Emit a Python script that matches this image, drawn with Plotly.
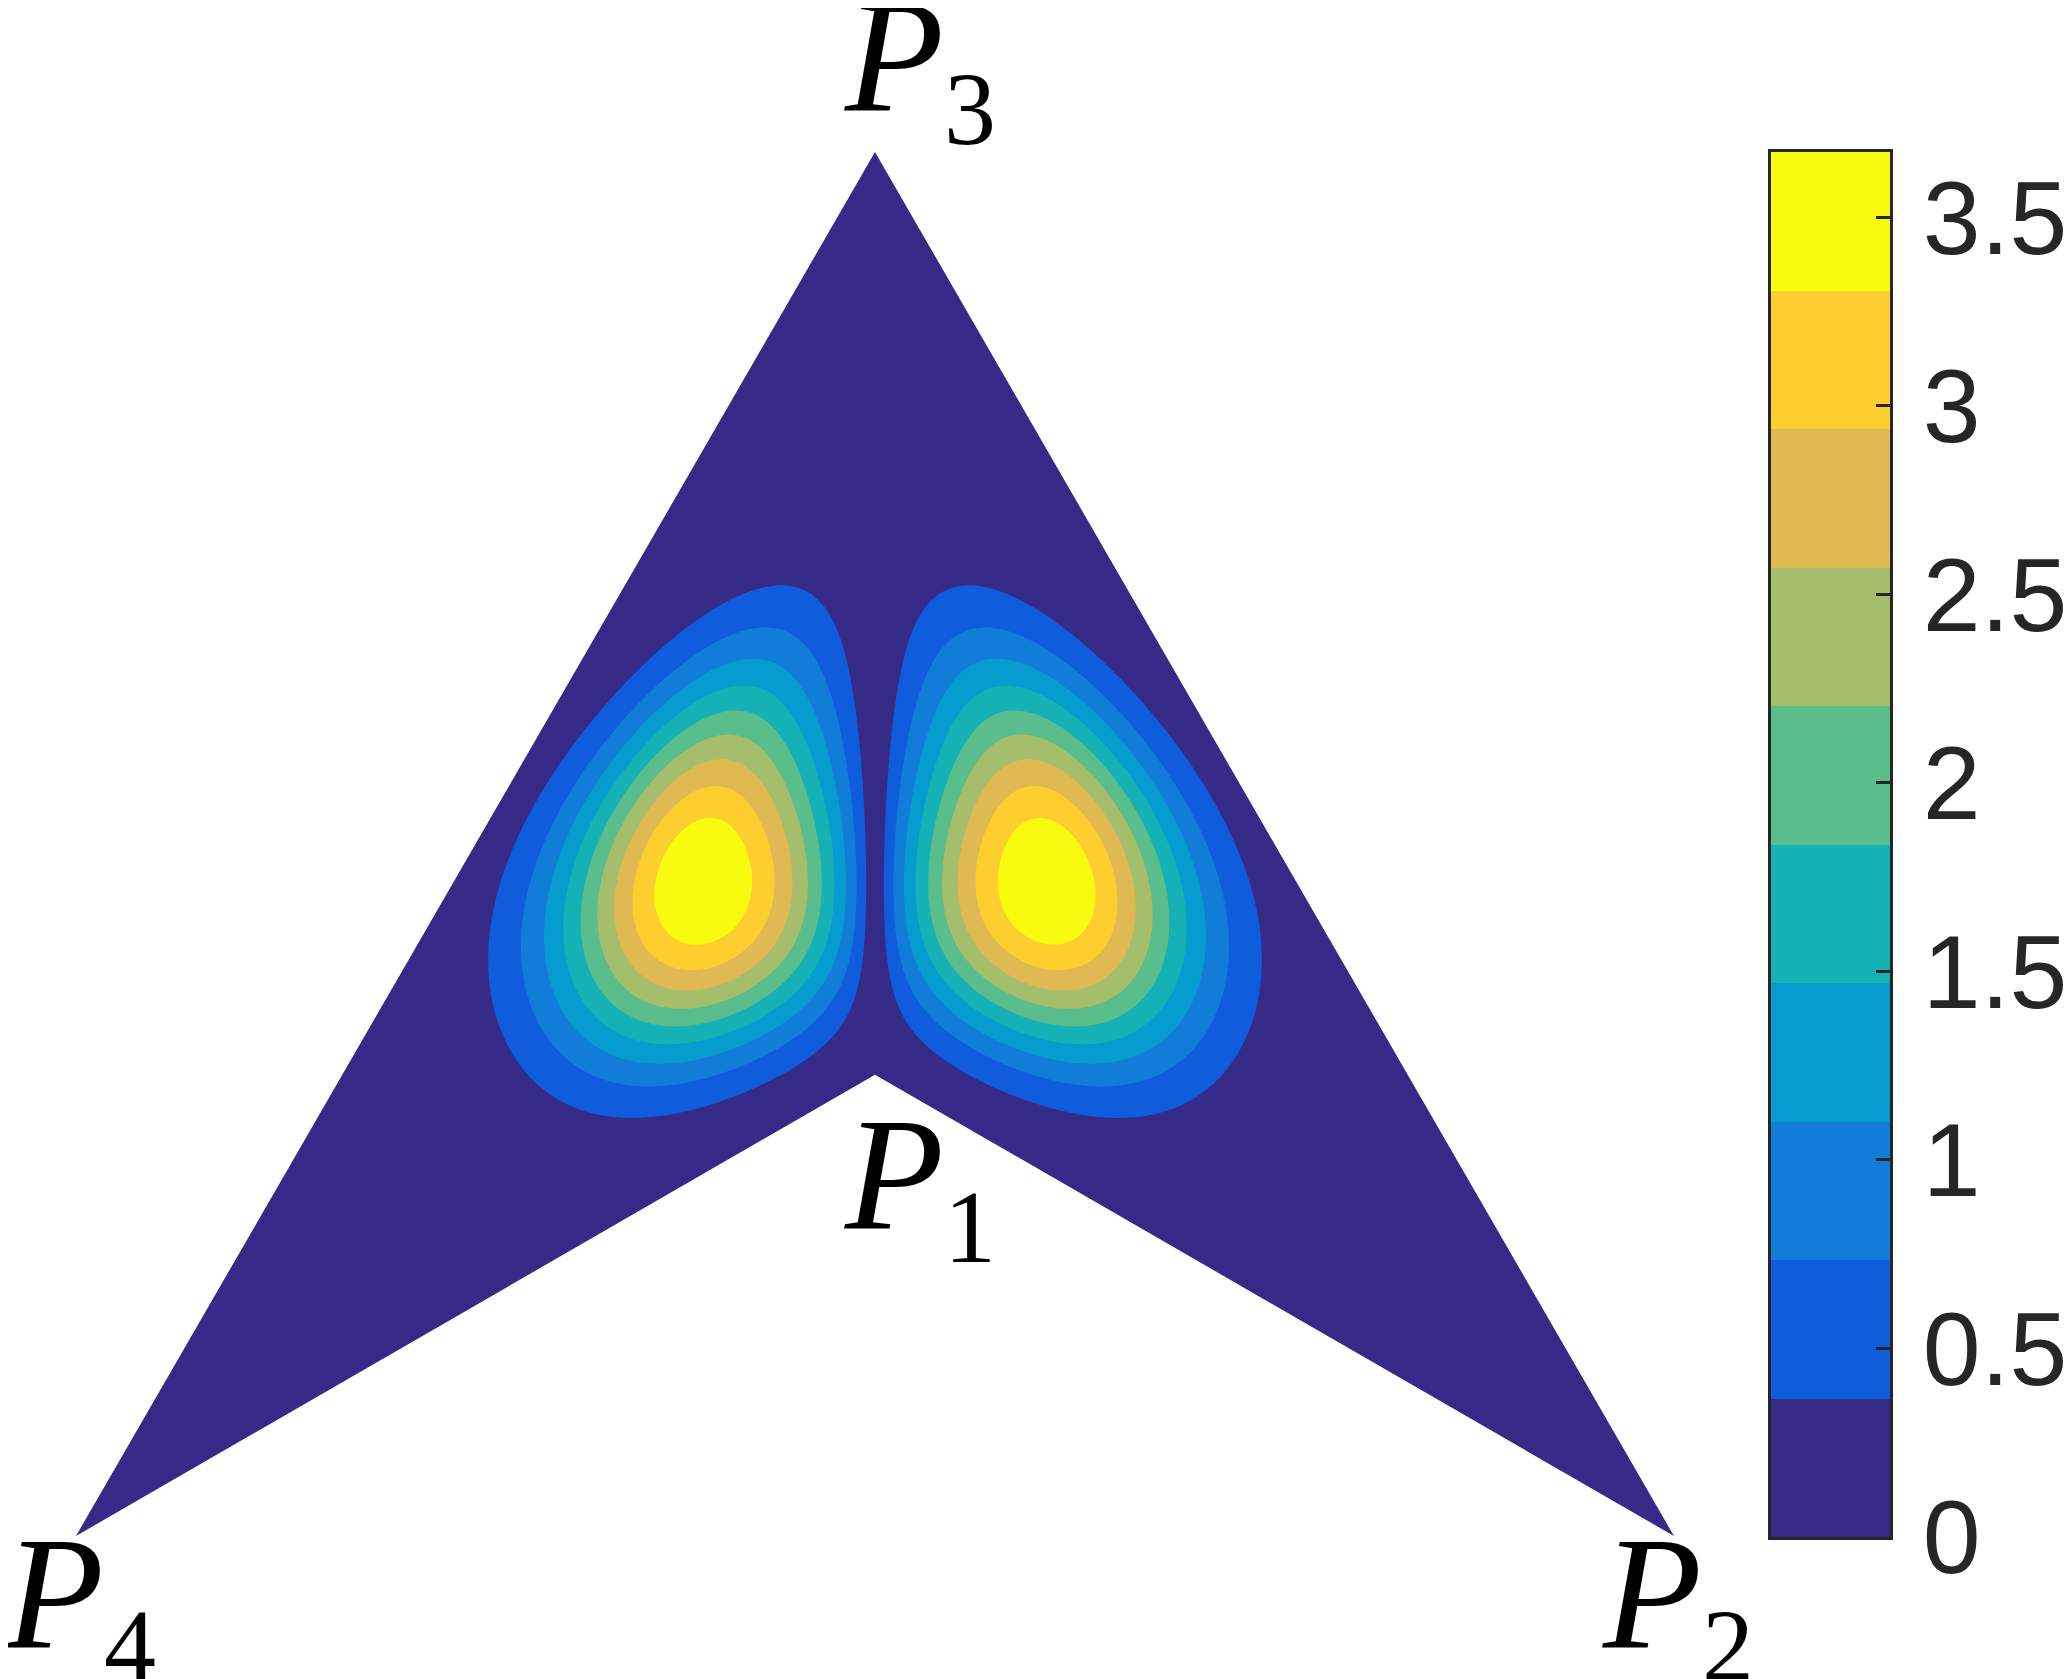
from __future__ import annotations

import numpy as np
import plotly.graph_objects as go

# ---- geometry of the domain (drawing units, P4-P2 is the base) ----
corner_names = ["P1", "P2", "P3", "P4"]
corner_x = [0.0, 1.0, 0.0, -1.0]
corner_y = [0.5774, 0.0, 1.7321, 0.0]

# label box centres (drawing units)
label_x = [0.0563, 1.005, 0.0563, -0.995]
label_y = [0.4406, -0.0839, 1.8398, -0.0839]

# ---- colour scale: 10 filled bands from 0 to z_max ----
z_max = 3.673
n_bands = 10
band_colors = [
    "#352A87", "#0F5CDD", "#127DD8", "#079CCF", "#15B1B4",
    "#59BD8C", "#A5BE6B", "#E1B952", "#FCCE2E", "#F9FB0E",
]
cbar_tickvals = [0, 0.5, 1, 1.5, 2, 2.5, 3, 3.5]
cbar_ticktext = ["0", "0.5", "1", "1.5", "2", "2.5", "3", "3.5"]

# ---- band boundaries read off the right lobe (the left lobe is its mirror) ----
# boundary k separates band k-1 from band k, i.e. it sits at k * z_max / 10
b1_x = [0.0897, 0.1189, 0.169, 0.2107, 0.2603, 0.3104, 0.3692, 0.4105, 0.453,
        0.473, 0.4735, 0.4794, 0.4652, 0.4355, 0.390, 0.3025, 0.2228, 0.1189,
        0.0563, 0.0438, 0.022, 0.0125, 0.0146, 0.025, 0.0476, 0.0647, 0.2015, 0.2015]
b1_y = [1.1818, 1.1881, 1.184, 1.159, 1.1176, 1.0626, 1.0, 0.930, 0.862,
        0.7835, 0.8185, 0.671, 0.6208, 0.5795, 0.542, 0.5207, 0.5373, 0.5795,
        0.6208, 0.6374, 0.677, 0.8185, 0.930, 1.055, 1.1377, 1.163, 1.159, 0.5423]
b2_x = [0.025, 0.440, 0.2015, 0.2015, 0.148, 0.4255]
b2_y = [0.8185, 0.8185, 1.1173, 0.5666, 1.1318, 0.6792]
b3_x = [0.0375, 0.411, 0.2015, 0.2015, 0.1564, 0.411, 0.3651]
b3_y = [0.8185, 0.8185, 1.0818, 0.5929, 1.0901, 0.7043, 0.9712]
b4_x = [0.0522, 0.3858, 0.2015, 0.2015, 0.1606, 0.3859, 0.2357, 0.3442]
b4_y = [0.8185, 0.8185, 1.0484, 0.6179, 1.0567, 0.7209, 0.6124, 0.9546]
b5_x = [0.0667, 0.3608, 0.2015, 0.2015, 0.169, 0.3608, 0.2315, 0.3233, 0.3484]
b5_y = [0.8185, 0.8185, 1.0172, 0.6417, 1.0254, 0.7376, 0.6396, 0.942, 0.6792]
b6_x = [0.0814, 0.339, 0.2015, 0.2015, 0.1773, 0.340, 0.2274, 0.1022, 0.3025, 0.3233]
b6_y = [0.8185, 0.8185, 0.990, 0.6646, 0.9962, 0.7543, 0.6625, 0.9587, 0.9337, 0.6959]
b7_x = [0.098, 0.317, 0.2015, 0.2015, 0.1815, 0.317, 0.2232, 0.123, 0.2816, 0.3025, 0.1273]
b7_y = [0.8185, 0.8185, 0.9608, 0.6875, 0.9671, 0.771, 0.6855, 0.942, 0.9212, 0.7168, 0.7209]
b8_x = [0.1189, 0.292, 0.2015, 0.2015, 0.1898, 0.292, 0.219, 0.1398, 0.2566, 0.2775, 0.1439]
b8_y = [0.8185, 0.8185, 0.9295, 0.7146, 0.9358, 0.7876, 0.7146, 0.9086, 0.9003, 0.7376, 0.7418]
b9_x = [0.1418, 0.2628, 0.2015, 0.2015, 0.1898, 0.2628, 0.2107, 0.1431, 0.1564, 0.2399, 0.2524, 0.1648]
b9_y = [0.8185, 0.8185, 0.894, 0.748, 0.8982, 0.8085, 0.7468, 0.8252, 0.8795, 0.8627, 0.7668, 0.7668]
peak_x, peak_y = 0.2025, 0.822

# page body has an 8px margin, so the figure is drawn 8px smaller and the
# ranges are chosen so that one drawing unit is 799 px on screen
W, H = 2063, 1671
X_RANGE = [-1.0851, 1.4969]
Y_RANGE = [-0.179, 1.9124]
DEG = 4
INK = "#262626"


def _level(k: int) -> float:
    return k * z_max / n_bands


def _basis(x: np.ndarray, y: np.ndarray) -> np.ndarray:
    u = (x - 0.2) / 0.3
    v = (y - 0.82) / 0.3
    return np.stack([u**i * v**j for i in range(DEG + 1) for j in range(DEG + 1 - i)], axis=-1)


def _fit_lobe() -> np.ndarray:
    """Least-squares fit of log(z / x) to the traced boundary points."""
    bounds = [(b1_x, b1_y), (b2_x, b2_y), (b3_x, b3_y), (b4_x, b4_y), (b5_x, b5_y),
              (b6_x, b6_y), (b7_x, b7_y), (b8_x, b8_y), (b9_x, b9_y)]
    xs, ys, zs, ws = [], [], [], []
    for k, (bx, by) in enumerate(bounds, start=1):
        xs += bx
        ys += by
        zs += [_level(k)] * len(bx)
        ws += [2.0 if k == 1 else 1.0] * len(bx)
    xs += [peak_x]; ys += [peak_y]; zs += [z_max]; ws += [1.0]

    xs, ys, zs, ws = map(np.array, (xs, ys, zs, ws))
    a = _basis(xs, ys) * ws[:, None]
    b = np.log(zs / xs) * ws
    coef, *_ = np.linalg.lstsq(a, b, rcond=None)
    return coef


def _field(coef: np.ndarray) -> tuple[np.ndarray, np.ndarray, np.ndarray]:
    gx = np.linspace(corner_x[3], corner_x[1], 501)
    gy = np.linspace(0.0, corner_y[2], 434)
    xx, yy = np.meshgrid(gx, gy)
    ax = np.abs(xx)
    p = np.minimum(_basis(ax, yy) @ coef, 10.0)
    z = ax * np.exp(p)
    # keep the polynomial from wandering far outside the traced lobe
    r = np.hypot(ax - peak_x, yy - peak_y)
    z = z * np.exp(-((r / 0.62) ** 8))
    return gx, gy, np.round(z, 3)


def _colorscale() -> list:
    return [[k / (n_bands - 1), c] for k, c in enumerate(band_colors)]


def _path(points: list[tuple[float, float]]) -> str:
    head, *rest = points
    return f"M {head[0]},{head[1]} " + " ".join(f"L {x},{y}" for x, y in rest) + " Z"


def _add_masks(fig: go.Figure) -> None:
    p1 = (corner_x[0], corner_y[0])
    p2 = (corner_x[1], corner_y[1])
    p3 = (corner_x[2], corner_y[2])
    p4 = (corner_x[3], corner_y[3])
    pad = 0.04
    masks = [
        [p4, p3, (0.0, p3[1] + pad), (p4[0] - pad, p3[1] + pad), (p4[0] - pad, 0.0)],
        [p2, p3, (0.0, p3[1] + pad), (p2[0] + pad, p3[1] + pad), (p2[0] + pad, 0.0)],
        [p4, p1, p2, (p2[0] + pad, -pad), (p4[0] - pad, -pad)],
    ]
    for m in masks:
        fig.add_shape(type="path", path=_path(m), xref="x", yref="y",
                      fillcolor="white", line_width=0, layer="above")


def _add_labels(fig: go.Figure) -> None:
    for name, x, y in zip(corner_names, label_x, label_y):
        fig.add_annotation(
            x=x, y=y, xref="x", yref="y",
            text=(f"<i>{name[0]}</i><sub><span style='font-size:104px'>"
                  f"{name[1:]}</span></sub>"),
            showarrow=False, xanchor="center", yanchor="middle", borderpad=0,
            font=dict(family="Liberation Serif", size=162, color="black"),
        )


def _add_colorbar(fig: go.Figure) -> None:
    step = z_max / n_bands
    fig.add_trace(go.Heatmap(
        x=[0], y=[(k + 0.5) * step for k in range(n_bands)],
        z=[[k] for k in range(n_bands)], zmin=0, zmax=n_bands - 1,
        colorscale=_colorscale(), showscale=False, hoverinfo="skip",
        xaxis="x2", yaxis="y2",
    ))
    fig.update_layout(
        xaxis2=dict(domain=[1763 / W, 1882 / W], anchor="y2", range=[-0.5, 0.5],
                    showticklabels=False, ticks="", showgrid=False, zeroline=False,
                    automargin=False,
                    showline=True, mirror=True, linewidth=3, linecolor=INK),
        yaxis2=dict(domain=[(H - 1529) / H, (H - 144) / H], anchor="x2", range=[0, z_max],
                    side="right", tickmode="array", tickvals=cbar_tickvals,
                    ticktext=cbar_ticktext, ticks="inside", ticklen=14, tickwidth=2.5,
                    tickcolor=INK, ticklabelstandoff=9, automargin=False,
                    tickfont=dict(family="Liberation Sans", size=104, color=INK),
                    showgrid=False, zeroline=False,
                    showline=True, mirror=True, linewidth=3, linecolor=INK),
    )


def build() -> go.Figure:
    coef = _fit_lobe()
    gx, gy, z = _field(coef)

    fig = go.Figure(go.Contour(
        x=gx, y=gy, z=z,
        autocontour=False,
        contours=dict(start=_level(1), end=_level(n_bands - 1), size=z_max / n_bands,
                      coloring="fill", showlines=False),
        colorscale=_colorscale(), showscale=False,
        line=dict(width=0), hoverinfo="skip",
    ))

    _add_masks(fig)
    _add_labels(fig)
    _add_colorbar(fig)

    fig.update_layout(
        xaxis=dict(visible=False, range=X_RANGE, automargin=False),
        yaxis=dict(visible=False, range=Y_RANGE, automargin=False),
        width=W, height=H,
        margin=dict(l=0, r=0, t=0, b=0, pad=0),
        paper_bgcolor="white", plot_bgcolor="white",
        showlegend=False,
    )
    return fig


fig = build()
fig.write_html("out.html")
